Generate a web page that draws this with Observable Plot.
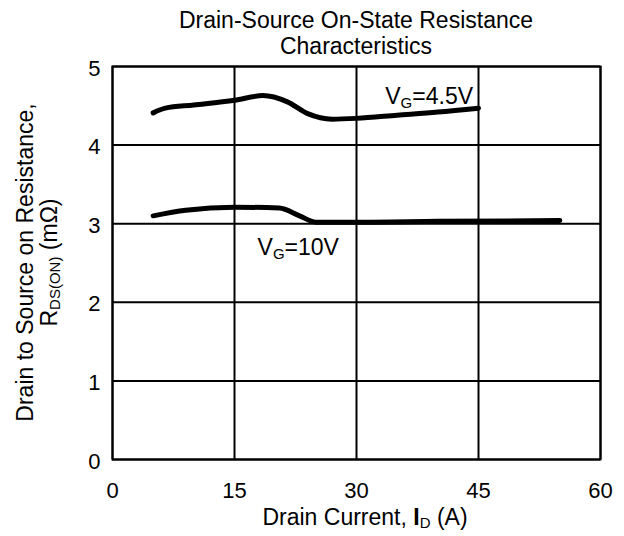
<!DOCTYPE html>
<html>
<head>
<meta charset="utf-8">
<script src="https://cdn.jsdelivr.net/npm/d3@7"></script>
<script src="https://cdn.jsdelivr.net/npm/@observablehq/plot@0.6"></script>
<style>
  html, body { margin: 0; padding: 0; background: #fff; }
  svg { display: block; }
</style>
</head>
<body>
<div id="chart"></div>
<script>
const xTicks = [0, 15, 30, 45, 60];
const yTicks = [0, 1, 2, 3, 4, 5];

const vg45X = [5, 6.5, 10, 15, 18.5, 21.5, 24, 27, 30, 35, 40, 45];
const vg45Y = [4.41, 4.47, 4.51, 4.57, 4.63, 4.55, 4.40, 4.33, 4.34, 4.38, 4.42, 4.47];

const vg10X = [5, 9, 15, 20.5, 23, 25, 30, 40, 55];
const vg10Y = [3.10, 3.17, 3.21, 3.20, 3.10, 3.02, 3.02, 3.03, 3.04];

const titleLines = ["Drain-Source On-State Resistance", "Characteristics"];
const labels = [
  {main: "V", sub: "G", rest: "=4.5V", x: 33.6, y: 4.52},
  {main: "V", sub: "G", rest: "=10V", x: 17.9, y: 2.60}
];

const data45 = vg45X.map((x, i) => ({x, y: vg45Y[i]}));
const data10 = vg10X.map((x, i) => ({x, y: vg10Y[i]}));

const FONT = "'Liberation Sans', Arial, Helvetica, sans-serif";
const FS = 23;
const SUB = 15;

const plot = Plot.plot({
  width: 624,
  height: 536,
  marginTop: 66,
  marginBottom: 77,
  marginLeft: 112,
  marginRight: 24,
  style: {fontFamily: FONT, fontSize: "22px", background: "#fff", color: "#000"},
  x: {domain: [0, 60]},
  y: {domain: [0, 5]},
  marks: [
    Plot.gridX(xTicks, {stroke: "#000", strokeOpacity: 1, strokeWidth: 2}),
    Plot.gridY(yTicks, {stroke: "#000", strokeOpacity: 1, strokeWidth: 2}),
    Plot.frame({stroke: "#000", strokeWidth: 2}),
    Plot.axisX(xTicks, {tickSize: 0, tickPadding: 23, fontSize: 22, label: null, fill: "#000", tickFormat: d => String(d)}),
    Plot.axisY(yTicks, {tickSize: 0, tickPadding: 12, fontSize: 22, label: null, fill: "#000", dy: 2, tickFormat: d => String(d)}),
    Plot.line(data45, {x: "x", y: "y", stroke: "#000", strokeWidth: 5, curve: "monotone-x", strokeLinecap: "round"}),
    Plot.line(data10, {x: "x", y: "y", stroke: "#000", strokeWidth: 5, curve: "monotone-x", strokeLinecap: "round"})
  ]
});

const svg = d3.select(plot);
const sx = plot.scale("x"), sy = plot.scale("y");
const cx = (sx.apply(0) + sx.apply(60)) / 2;
const cy = (sy.apply(0) + sy.apply(5)) / 2;

// Title
svg.append("text").attr("x", cx).attr("y", 28).attr("text-anchor", "middle")
  .attr("font-size", FS).attr("font-family", FONT).attr("fill", "#000").text(titleLines[0]);
svg.append("text").attr("x", cx).attr("y", 54).attr("text-anchor", "middle")
  .attr("font-size", FS).attr("font-family", FONT).attr("fill", "#000").text(titleLines[1]);

// Curve labels
for (const l of labels) {
  const t = svg.append("text").attr("x", sx.apply(l.x)).attr("y", sy.apply(l.y))
    .attr("text-anchor", "start")
    .attr("font-size", FS).attr("font-family", FONT).attr("fill", "#000");
  t.append("tspan").text(l.main);
  t.append("tspan").attr("font-size", SUB).attr("dy", 4).text(l.sub);
  t.append("tspan").attr("dy", -4).text(l.rest);
}

// X axis label
const xl = svg.append("text").attr("x", 365).attr("y", 525).attr("text-anchor", "middle")
  .attr("font-size", FS).attr("font-family", FONT).attr("fill", "#000");
xl.append("tspan").text("Drain Current, ");
xl.append("tspan").attr("font-weight", "bold").text("I");
xl.append("tspan").attr("font-size", SUB).attr("dy", 3).text("D");
xl.append("tspan").attr("dy", -3).text(" (A)");

// Y axis label
svg.append("text").attr("transform", `translate(33,${cy}) rotate(-90)`)
  .attr("text-anchor", "middle")
  .attr("font-size", FS).attr("font-family", FONT).attr("fill", "#000")
  .text("Drain to Source on Resistance,");
const yl2 = svg.append("text").attr("transform", `translate(57,${cy}) rotate(-90)`)
  .attr("text-anchor", "middle")
  .attr("font-size", FS).attr("font-family", FONT).attr("fill", "#000");
yl2.append("tspan").text("R");
yl2.append("tspan").attr("font-size", SUB).attr("dy", 3).text("DS(ON)");
yl2.append("tspan").attr("dy", -3).text(" (mΩ)");

document.getElementById("chart").appendChild(plot);
</script>
</body>
</html>
